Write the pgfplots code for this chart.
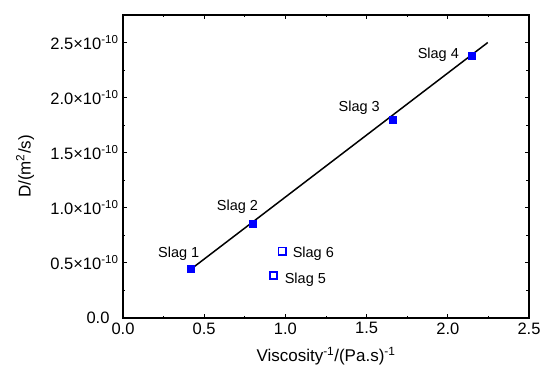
\documentclass[border=0pt]{standalone}
\usepackage{fontspec}
\setmainfont{Liberation Sans}
\usepackage{pgfplots}
\pgfplotsset{compat=1.18}
\definecolor{ptblue}{RGB}{0,0,255}
\begin{document}
\begin{tikzpicture}
\useasboundingbox (0,0) rectangle (542pt,373pt);
\begin{axis}[
  at={(123pt,55pt)}, anchor=south west,
  scale only axis, width=406pt, height=303pt,
  xmin=0, xmax=2.5, ymin=0, ymax=2.75,
  xtick={0,0.5,...,2.5},
  ytick={0,0.5,1,1.5,2,2.5},
  yticklabels={0.0\hspace*{9pt},0.5×10\textsuperscript{-10},1.0×10\textsuperscript{-10},1.5×10\textsuperscript{-10},2.0×10\textsuperscript{-10},2.5×10\textsuperscript{-10}},
  minor x tick num=1, minor y tick num=1,
  tick align=inside,
  major tick length=4pt, minor tick length=2.5pt,
  axis line style={line width=1.1pt},
  every tick/.style={line width=0.9pt, black},
  /pgf/number format/.cd, fixed, fixed zerofill, precision=1, assume math mode=true,
  /pgfplots/.cd,
  ticklabel style={font=\fontsize{16.5}{18}\selectfont},
  xticklabel style={yshift=-1pt},
  yticklabel style={xshift=-1pt},
  xlabel={Viscosity\textsuperscript{-1}/(Pa.s)\textsuperscript{-1}},
  ylabel={D/(m\textsuperscript{2}/s)},
  label style={font=\fontsize{17}{19}\selectfont},
  xlabel style={at={(axis description cs:0.5,-0.125)}, anchor=center},
  ylabel style={at={(axis description cs:-0.241,0.5)}, anchor=center},
  clip=false,
]
\addplot[black, line width=1.5pt] coordinates {(0.42,0.445) (2.246,2.50)};
\addplot[only marks, mark=square*, mark size=3.5pt, color=ptblue, mark options={fill=ptblue, line width=0.5pt}]
  coordinates {(0.417,0.445) (0.80,0.852) (1.658,1.80) (2.145,2.379)};
\addplot[only marks, mark=square, mark size=3.6pt, color=ptblue, mark options={fill=white, line width=1.5pt}]
  coordinates {(0.926,0.385) (0.981,0.606)};
\begin{scope}[every node/.style={font=\fontsize{14.5}{16}\selectfont}]
\node[xshift=-12pt, yshift=15pt] at (axis cs:0.417,0.445) {Slag 1};
\node[xshift=-15.5pt, yshift=17pt] at (axis cs:0.80,0.852) {Slag 2};
\node[xshift=-33pt, yshift=12pt] at (axis cs:1.658,1.80) {Slag 3};
\node[xshift=-33pt, yshift=1pt] at (axis cs:2.145,2.379) {Slag 4};
\node[xshift=32pt, yshift=-4pt] at (axis cs:0.926,0.385) {Slag 5};
\node[xshift=31pt, yshift=-3pt] at (axis cs:0.981,0.606) {Slag 6};
\end{scope}
\end{axis}
\end{tikzpicture}
\end{document}
